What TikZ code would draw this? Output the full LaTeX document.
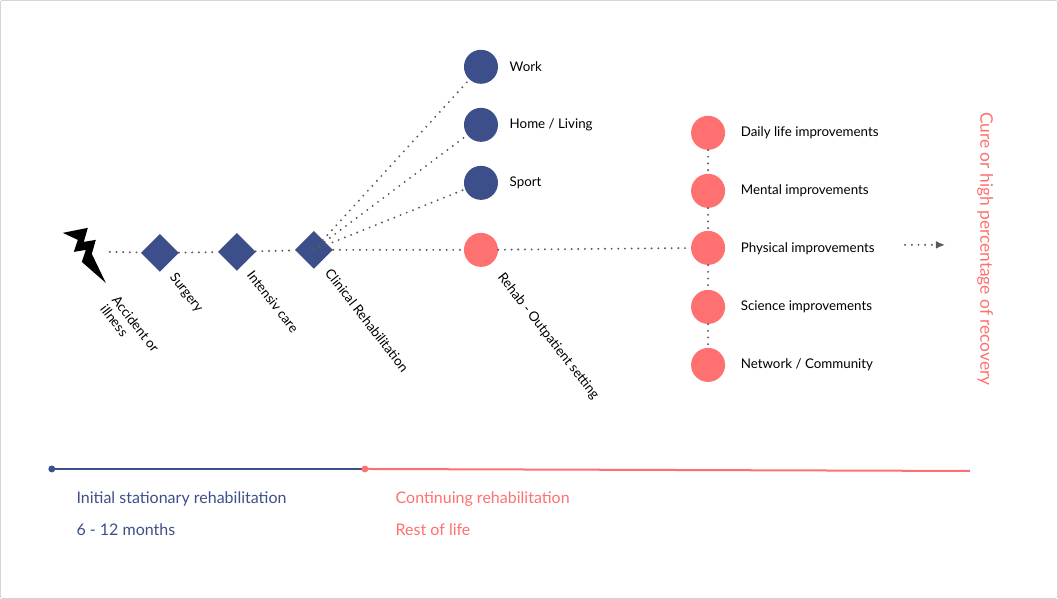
\documentclass[tikz,border=0pt]{standalone}
\usepackage{fontspec}
\setmainfont{Lato}
\usetikzlibrary{shapes.geometric,arrows.meta}
\definecolor{navy}{HTML}{3D4F8A}
\definecolor{coral}{HTML}{FF7070}
\tikzset{
  stage/.style={diamond,fill=navy,inner sep=0pt,minimum size=28.5pt},
  goal/.style={circle,fill=navy,inner sep=0pt,minimum size=25.5pt},
  gain/.style={circle,fill=coral,inner sep=0pt,minimum size=25.5pt},
  dots/.style={dash pattern=on 0pt off 5pt,line cap=round,line width=1.6pt,gray!70!black},
  tag/.style={font=\fontsize{10}{12}\selectfont,anchor=west},
  slant/.style={font=\fontsize{10}{11}\selectfont,anchor=north west,rotate=-52,align=left},
}
\begin{document}
\begin{tikzpicture}[x=0.75pt,y=-0.75pt]
\draw[gray!50,rounded corners=2pt] (0.5,0.5) rectangle (1057.5,598.5);
% bolt
\fill (63,233) -- (88,228) -- (84,242) -- (96,240) -- (92,254) -- (106,283) -- (82,262) -- (86,250) -- (74,252) -- (78,240) -- cycle;
\coordinate (bolt) at (110,252);
\node[stage] (surg) at (160,253) {};
\node[stage] (icu) at (237,252) {};
\node[stage] (clin) at (314,250) {};
\node[gain] (out) at (481,250) {};
\node[goal] (work) at (481,67) {};
\node[goal] (home) at (481,125) {};
\node[goal] (sport) at (481,183) {};
\foreach \n/\y in {daily/133,mental/191,phys/248,sci/307,net/365}
  \node[gain] (\n) at (708,\y) {};
\draw[dots] (bolt) -- (surg) -- (icu) -- (clin) -- (out) -- (phys);
\foreach \g in {work,home,sport} \draw[dots] (clin.center) -- (\g);
\draw[dots] (daily) -- (mental) -- (phys) -- (sci) -- (net);
\coordinate (a0) at (905,245); \coordinate (a1) at (945,245);
\draw[dots,-{Latex[length=7pt,width=6pt]}] (a0) -- (a1);
% labels
\node[tag] at (505,67) {Work};
\node[tag] at (505,125) {Home / Living};
\node[tag] at (505,183) {Sport};
\node[tag] at (736,133) {Daily life improvements};
\node[tag] at (736,191) {Mental improvements};
\node[tag] at (736,249) {Physical improvements};
\node[tag] at (736,307) {Science improvements};
\node[tag] at (736,365) {Network / Community};
\node[slant] at (120,288) {Accident or\\illness};
\node[slant] at (178,265) {Surgery};
\node[slant] at (255,263) {Intensiv care};
\node[slant] at (333,261) {Clinical Rehabilitation};
\node[slant] at (506,265) {Rehab - Outpatient setting};
\node[coral,rotate=-90,font=\fontsize{13}{15}\selectfont] at (985,249) {Cure or high percentage of recovery};
% timeline
\coordinate (t0) at (52,469); \coordinate (t1) at (365,469); \coordinate (t2) at (970,471);
\draw[navy,line width=1.5pt] (t0) -- (t1);
\draw[coral,line width=1.5pt] (t1) -- (t2);
\fill[navy] (t0) circle (2.6pt);
\fill[coral] (t1) circle (2.6pt);
\begin{scope}[every node/.style={anchor=west,font=\fontsize{12}{14}\selectfont}]
\node[navy] at (72,499) {Initial stationary rehabilitation};
\node[navy] at (72,530) {6 - 12 months};
\node[coral] at (391,499) {Continuing rehabilitation};
\node[coral] at (391,530) {Rest of life};
\end{scope}
\end{tikzpicture}
\end{document}
